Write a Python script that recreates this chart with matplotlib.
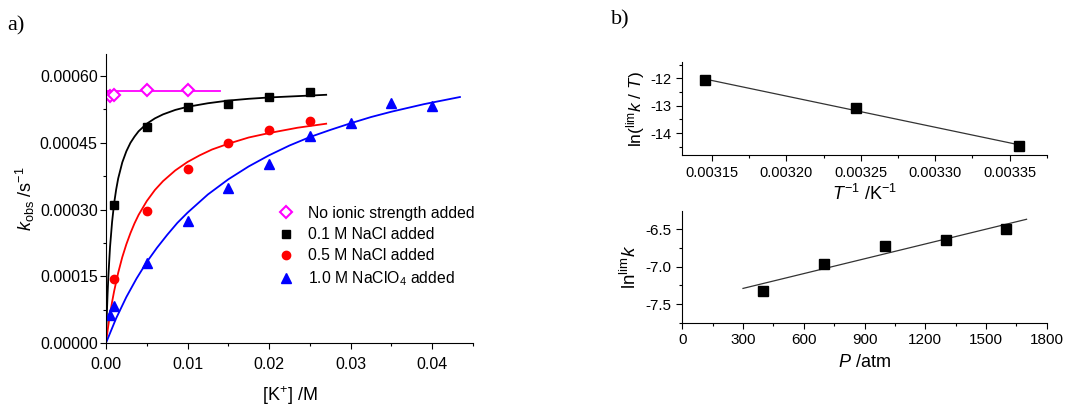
import matplotlib
matplotlib.use("Agg")
import matplotlib.pyplot as plt
from matplotlib.ticker import MultipleLocator, FormatStrFormatter

plt.rcParams['font.family'] = ['Liberation Sans', 'DejaVu Sans']
plt.rcParams['mathtext.fontset'] = 'custom'
plt.rcParams['mathtext.rm'] = 'Liberation Sans'
plt.rcParams['mathtext.it'] = 'Liberation Sans:italic'
plt.rcParams['mathtext.bf'] = 'Liberation Sans:bold'
plt.rcParams['axes.unicode_minus'] = False

# ---------------- data: panel a ----------------
none_x = [0.0005, 0.001, 0.005, 0.01]
none_y = [0.000555, 0.000557, 0.000569, 0.000569]
none_fit_x = [0.0, 0.014]
none_fit_y = [0.000566, 0.000566]

nacl01_x = [0.001, 0.005, 0.01, 0.015, 0.02, 0.025]
nacl01_y = [0.000311, 0.000485, 0.000531, 0.000538, 0.000553, 0.000565]
nacl01_fit_x = [0, 0.0001, 0.0002, 0.0003, 0.0005, 0.00075, 0.001, 0.00125,
                0.0015, 0.002, 0.0025, 0.003, 0.0035, 0.004, 0.005, 0.006,
                0.007, 0.0085, 0.01, 0.0125, 0.015, 0.0175, 0.02, 0.0235, 0.027]
nacl01_fit_y = [0, 0.0000616, 0.000111, 0.000152, 0.000216, 0.000272, 0.000314,
                0.000345, 0.000370, 0.000406, 0.000431, 0.000450, 0.000464,
                0.000476, 0.000493, 0.000505, 0.000514, 0.000524, 0.000531,
                0.000539, 0.000545, 0.000549, 0.000552, 0.000555, 0.000558]

nacl05_x = [0.001, 0.005, 0.01, 0.015, 0.02, 0.025]
nacl05_y = [0.000145, 0.000297, 0.000391, 0.000450, 0.000479, 0.000498]
nacl05_fit_x = [0, 0.00025, 0.0005, 0.00075, 0.001, 0.0015, 0.002, 0.0025,
                0.003, 0.0035, 0.004, 0.005, 0.006, 0.007, 0.0085, 0.01,
                0.0115, 0.013, 0.015, 0.0175, 0.02, 0.0235, 0.027]
nacl05_fit_y = [0, 0.0000345, 0.000065, 0.0000922, 0.0001165, 0.000158,
                0.000193, 0.000222, 0.000247, 0.000269, 0.000288, 0.000319,
                0.000344, 0.000364, 0.000388, 0.000407, 0.000422, 0.000435,
                0.000448, 0.000462, 0.000472, 0.000484, 0.000493]

naclo4_x = [0.0005, 0.001, 0.005, 0.01, 0.015, 0.02, 0.025, 0.03, 0.035, 0.04]
naclo4_y = [0.0000637, 0.0000825, 0.000180, 0.000274, 0.000349, 0.000402,
            0.000465, 0.000494, 0.000539, 0.000533]
naclo4_fit_x = [0, 0.00125, 0.0025, 0.00375, 0.005, 0.00625, 0.0075, 0.00875,
                0.01, 0.0125, 0.015, 0.0175, 0.02, 0.0225, 0.025, 0.0275,
                0.03, 0.0325, 0.035, 0.039, 0.0434]
naclo4_fit_y = [0, 0.0000556, 0.0001034, 0.000145, 0.000182, 0.000214,
                0.000243, 0.000270, 0.000293, 0.000334, 0.000368, 0.000397,
                0.000422, 0.000444, 0.000463, 0.000479, 0.000494, 0.000508,
                0.000520, 0.000537, 0.000553]

legend_labels = ['No ionic strength added', '0.1 M NaCl added',
                 '0.5 M NaCl added', r'1.0 M NaClO$_4$ added']

# ---------------- data: panel b ----------------
invT = [0.003145, 0.003247, 0.003356]
ln_kT = [-12.05, -13.07, -14.45]
invT_fit = [0.003145, 0.003356]
ln_kT_fit = [-12.02, -14.42]

P = [400, 700, 1000, 1300, 1600]
ln_k = [-7.33, -6.96, -6.73, -6.65, -6.50]
P_fit = [300, 1700]
ln_k_fit = [-7.29, -6.37]

fig = plt.figure(figsize=(10.66, 4.05), dpi=100)

def style(ax, fs=10.5):
    ax.spines['top'].set_visible(False)
    ax.spines['right'].set_visible(False)
    ax.tick_params(which='both', direction='out', labelsize=fs, width=0.8)
    ax.tick_params(which='major', length=4)
    ax.tick_params(which='minor', length=2.5)

# ---------------- panel a ----------------
axa = fig.add_axes([0.0994, 0.153, 0.3443, 0.714])
axa.plot(none_fit_x, none_fit_y, color='#ff00ff', lw=1.3)
axa.plot(nacl01_fit_x, nacl01_fit_y, color='black', lw=1.3)
axa.plot(nacl05_fit_x, nacl05_fit_y, color='red', lw=1.3)
axa.plot(naclo4_fit_x, naclo4_fit_y, color='blue', lw=1.3)
h1, = axa.plot(none_x, none_y, 'D', mfc='white', mec='#ff00ff', mew=1.5, ms=6.5, ls='none')
h2, = axa.plot(nacl01_x, nacl01_y, 's', color='black', ms=5.5, ls='none')
h3, = axa.plot(nacl05_x, nacl05_y, 'o', color='red', ms=6, ls='none')
h4, = axa.plot(naclo4_x, naclo4_y, '^', color='blue', ms=6.5, ls='none')
axa.set_xlim(0, 0.045)
axa.set_ylim(0, 0.00065)
axa.xaxis.set_major_locator(MultipleLocator(0.01))
axa.xaxis.set_minor_locator(MultipleLocator(0.005))
axa.yaxis.set_major_locator(MultipleLocator(0.00015))
axa.yaxis.set_minor_locator(MultipleLocator(0.000075))
axa.xaxis.set_major_formatter(FormatStrFormatter('%.2f'))
axa.yaxis.set_major_formatter(FormatStrFormatter('%.5f'))
style(axa, 11.5)
axa.tick_params(axis='x', which='major', pad=6)
axa.tick_params(axis='y', which='major', pad=2)
axa.set_xlabel(r'[K$^{+}$] /M', fontsize=13, labelpad=9)
axa.set_ylabel(r'$k_{\mathrm{obs}}$ /s$^{-1}$', fontsize=13, labelpad=2)
leg = axa.legend([h1, h2, h3, h4], legend_labels, loc='upper left',
                 bbox_to_anchor=(0.43, 0.496), frameon=False, fontsize=11.3,
                 handletextpad=0.4, labelspacing=0.4, borderaxespad=0)
fig.text(0.007, 0.935, 'a)', fontsize=16, family='Liberation Serif', va='center')

# ---------------- panel b top ----------------
axb = fig.add_axes([0.640, 0.617, 0.342, 0.230])
axb.plot(invT_fit, ln_kT_fit, color='#333333', lw=0.9)
axb.plot(invT, ln_kT, 's', color='black', ms=6.5, ls='none')
axb.set_xlim(0.00313, 0.003375)
axb.set_ylim(-14.8, -11.4)
axb.xaxis.set_major_locator(MultipleLocator(0.00005))
axb.xaxis.set_minor_locator(MultipleLocator(0.000025))
axb.yaxis.set_major_locator(MultipleLocator(1))
axb.yaxis.set_minor_locator(MultipleLocator(0.5))
axb.xaxis.set_major_formatter(FormatStrFormatter('%.5f'))
axb.yaxis.set_major_formatter(FormatStrFormatter('%d'))
style(axb, 10.5)
axb.set_xlabel(r'$T^{-1}$ /K$^{-1}$', fontsize=13, labelpad=3)
axb.set_ylabel(r'ln($^{\mathrm{lim}}$$k$ / $T$)', fontsize=12.5, labelpad=3)
fig.text(0.573, 0.95, 'b)', fontsize=16, family='Liberation Serif', va='center')

# ---------------- panel b bottom ----------------
axc = fig.add_axes([0.640, 0.2025, 0.342, 0.2765])
axc.plot(P_fit, ln_k_fit, color='#333333', lw=0.9)
axc.plot(P, ln_k, 's', color='black', ms=6.5, ls='none')
axc.set_xlim(0, 1800)
axc.set_ylim(-7.75, -6.26)
axc.xaxis.set_major_locator(MultipleLocator(300))
axc.xaxis.set_minor_locator(MultipleLocator(150))
axc.yaxis.set_major_locator(MultipleLocator(0.5))
axc.yaxis.set_minor_locator(MultipleLocator(0.25))
axc.xaxis.set_major_formatter(FormatStrFormatter('%d'))
axc.yaxis.set_major_formatter(FormatStrFormatter('%.1f'))
style(axc, 11)
axc.set_xlabel(r'$P$ /atm', fontsize=13, labelpad=5)
axc.set_ylabel(r'ln$^{\mathrm{lim}}$$k$', fontsize=13.5, labelpad=4)

fig.savefig('out.png', dpi=100)
